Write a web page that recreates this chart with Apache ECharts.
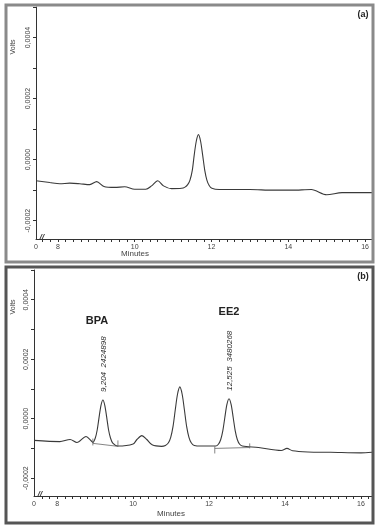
<!DOCTYPE html>
<html>
<head>
<meta charset="utf-8">
<script src="https://cdn.jsdelivr.net/npm/echarts@6/dist/echarts.min.js"></script>
<style>
html, body { margin: 0; padding: 0; background: #fff; }
#main { width: 379px; height: 532px; }
</style>
</head>
<body>
<div id="main"></div>
<script>
// panel (a) trace
var minutesA = [7.43, 7.79, 8.05, 8.31, 8.57, 8.83, 9.01, 9.2, 9.48, 9.74, 10.0, 10.29, 10.44, 10.6, 10.75, 10.96, 11.22, 11.31, 11.38, 11.44, 11.5, 11.55, 11.605, 11.66, 11.715, 11.77, 11.825, 11.88, 11.94, 12.01, 12.2, 13.0, 13.6, 14.1, 14.6, 15.0, 15.4, 16.18];
var voltsA = [-0.000069, -0.000075, -0.000079, -0.000077, -0.000079, -0.000082, -0.000072, -0.000088, -0.000091, -0.000089, -0.000097, -0.000097, -0.000086, -0.000069, -0.000086, -0.000095, -0.000094, -0.00009, -0.000082, -0.000067, -0.000035, 0.000015, 0.000061, 0.000082, 0.000061, 0.000015, -0.000035, -0.000067, -0.000085, -0.000094, -0.000098, -0.000098, -0.0001, -0.0001, -0.000098, -0.000115, -0.000108, -0.000108];

// panel (b) trace
var minutesB = [7.39, 8.07, 8.34, 8.52, 8.76, 8.9, 8.94, 9.004, 9.054, 9.104, 9.154, 9.204, 9.254, 9.304, 9.354, 9.404, 9.464, 9.6, 10.0, 10.1, 10.23, 10.36, 10.5, 10.75, 10.85, 10.93, 10.99, 11.05, 11.11, 11.17, 11.23, 11.29, 11.35, 11.41, 11.47, 11.53, 11.61, 11.8, 12.1, 12.175, 12.245, 12.305, 12.36, 12.415, 12.47, 12.525, 12.58, 12.635, 12.69, 12.745, 12.805, 12.875, 13.3, 13.9, 14.05, 14.2, 14.6, 15.2, 16.0, 16.29];
var voltsB = [-0.000073, -0.000077, -0.00007, -0.00008, -0.00006, -0.000075, -0.00008, -0.000065, -0.000038, 0.000005, 0.000045, 0.000063, 0.000045, 0.000005, -0.000038, -0.000065, -0.000082, -0.000092, -0.000085, -0.00007, -0.000057, -0.00007, -0.000088, -0.000093, -0.00009, -0.000081, -0.000063, -0.000027, 0.00003, 0.000083, 0.000107, 0.000083, 0.00003, -0.000027, -0.000063, -0.000081, -0.00009, -0.000092, -0.000092, -0.000092, -0.000086, -0.000071, -0.000042, 0.000004, 0.000048, 0.000067, 0.000048, 0.000004, -0.000042, -0.000071, -0.000086, -0.000092, -0.000097, -0.000107, -0.0001, -0.000108, -0.000112, -0.000113, -0.000115, -0.000113];

// integration baselines and their end marks in (b)
var bpaBaseline = [[8.94, -0.000083], [9.6, -0.000093]];
var bpaMarks = [[[8.94, -0.000067], [8.94, -0.00009]], [[9.6, -0.000073], [9.6, -0.000095]]];
var ee2Baseline = [[12.15, -0.0001], [13.07, -0.000097]];
var ee2Marks = [[[12.15, -0.000093], [12.15, -0.000117]], [[13.07, -0.000083], [13.07, -0.0001]]];

// peak annotations
var peakNames = ['BPA', 'EE2'];
var peakTimes = [9.204, 12.525];
var peakTimeText = ['9,204', '12,525'];
var peakAreas = ['2424898', '3480268'];
var peakTops = [0.000063, 0.000067];

var xLabelValues = [8, 10, 12, 14, 16];
var yLabelValues = [-0.0002, 0, 0.0002, 0.0004];
var xMinA = 7.43, xMaxA = 16.18;
var xMinB = 7.39, xMaxB = 16.29;

function zip(xs, ys) {
    return xs.map(function (x, i) { return [x, ys[i]] })
}
function stepValues(from, to, step) {
    var out = [];
    for (var v = from; v <= to + 1e-9; v += step) out.push(Math.round(v * 1e6) / 1e6);
    return out
}

var ink = '#333';
var font = 'Liberation Sans, Arial, sans-serif';

function make_xaxis(idx, min, max) {
    return {
        type: 'value', gridIndex: idx, min: min, max: max,
        axisLine: { onZero: false, lineStyle: { color: ink, width: 1 } },
        axisTick: { length: 3, lineStyle: { color: ink }, customValues: stepValues(7.6, max, 0.2) },
        axisLabel: {
            customValues: [min].concat(xLabelValues),
            formatter: function (v) { return v === min ? '0' : String(v) },
            color: '#444', fontSize: 7, fontFamily: font, margin: 5
        },
        splitLine: { show: false }
    }
}
function make_yaxis(idx) {
    return {
        type: 'value', gridIndex: idx, min: -0.00026, max: 0.0005,
        axisLine: { show: true, onZero: false, lineStyle: { color: ink, width: 1 } },
        axisTick: { show: true, length: 3, lineStyle: { color: ink }, customValues: stepValues(-0.0002, 0.0005, 0.0001) },
        axisLabel: {
            customValues: yLabelValues,
            rotate: 90,
            formatter: function (v) { return v.toFixed(4).replace('.', ',') },
            color: '#444', fontSize: 7, fontFamily: font, margin: 4
        },
        splitLine: { show: false }
    }
}
function trace(idx, data) {
    return {
        type: 'line', xAxisIndex: idx, yAxisIndex: idx, data: data,
        smooth: 0.3, symbol: 'none', silent: true,
        lineStyle: { color: '#3a3a3a', width: 1.1 }
    }
}
function thin(data) {
    return {
        type: 'line', xAxisIndex: 1, yAxisIndex: 1, data: data,
        symbol: 'none', silent: true,
        lineStyle: { color: '#666', width: 0.8 }
    }
}

var chart = echarts.init(document.getElementById('main'));

var series = [trace(0, zip(minutesA, voltsA)), trace(1, zip(minutesB, voltsB)), thin(bpaBaseline), thin(ee2Baseline)];
bpaMarks.concat(ee2Marks).forEach(function (m) { series.push(thin(m)) });

chart.setOption({
    animation: false,
    grid: [
        { left: 36, right: 7, top: 7, bottom: 293 },
        { left: 34, right: 7, top: 270, bottom: 36 }
    ],
    xAxis: [make_xaxis(0, xMinA, xMaxA), make_xaxis(1, xMinB, xMaxB)],
    yAxis: [make_yaxis(0), make_yaxis(1)],
    series: series
});

var graphics = [
    { type: 'rect', shape: { x: 6, y: 5, width: 367, height: 257 }, style: { fill: null, stroke: '#8a8a8a', lineWidth: 3 }, z: 100 },
    { type: 'rect', shape: { x: 6, y: 267, width: 367, height: 256 }, style: { fill: null, stroke: '#555', lineWidth: 3 }, z: 100 },
    { type: 'text', x: 363, y: 15, style: { text: '(a)', font: 'bold 9px ' + font, fill: '#222', align: 'center', verticalAlign: 'middle' } },
    { type: 'text', x: 363, y: 277, style: { text: '(b)', font: 'bold 9px ' + font, fill: '#222', align: 'center', verticalAlign: 'middle' } },
    { type: 'text', x: 13, y: 47, rotation: Math.PI / 2, style: { text: 'Volts', font: '7px ' + font, fill: '#444', align: 'center', verticalAlign: 'middle' } },
    { type: 'text', x: 13, y: 307, rotation: Math.PI / 2, style: { text: 'Volts', font: '7px ' + font, fill: '#444', align: 'center', verticalAlign: 'middle' } },
    { type: 'text', x: 135, y: 254, style: { text: 'Minutes', font: '8px ' + font, fill: '#444', align: 'center', verticalAlign: 'middle' } },
    { type: 'text', x: 171, y: 514, style: { text: 'Minutes', font: '8px ' + font, fill: '#444', align: 'center', verticalAlign: 'middle' } },
    { type: 'text', x: 42, y: 237, style: { text: '//', font: 'bold italic 8px ' + font, fill: '#333', align: 'center', verticalAlign: 'middle' }, z: 100 },
    { type: 'text', x: 40, y: 494, style: { text: '//', font: 'bold italic 8px ' + font, fill: '#333', align: 'center', verticalAlign: 'middle' }, z: 100 }
];

var nameLift = [79, 87];
peakNames.forEach(function (name, i) {
    var p = chart.convertToPixel({ gridIndex: 1 }, [peakTimes[i], peakTops[i]]);
    graphics.push({ type: 'text', x: p[0] + 1, y: p[1] - 8, rotation: Math.PI / 2,
        style: { text: peakTimeText[i] + '  ' + peakAreas[i], font: 'italic 8px ' + font, fill: '#333', align: 'left', verticalAlign: 'middle' } });
    graphics.push({ type: 'text', x: p[0] - (i === 0 ? 6 : 0), y: p[1] - nameLift[i],
        style: { text: name, font: 'bold 11px ' + font, fill: '#222', align: 'center', verticalAlign: 'middle' } });
});

chart.setOption({ graphic: graphics });
</script>
</body>
</html>
